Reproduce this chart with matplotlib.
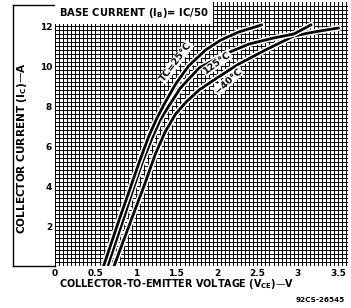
import numpy as np
import matplotlib
matplotlib.use("Agg")
import matplotlib.pyplot as plt
import matplotlib.patheffects as pe
from matplotlib.lines import Line2D

# Data
v_25 = [0.60, 0.70, 0.80, 0.93, 1.05, 1.16, 1.26, 1.35, 1.49, 1.65, 1.86, 2.05, 2.27, 2.55]
ic_25 = [0.0, 1.2, 2.4, 3.9, 5.3, 6.5, 7.4, 8.1, 9.1, 10.0, 10.8, 11.3, 11.7, 12.05]

v_125 = [0.65, 0.75, 0.85, 0.97, 1.08, 1.20, 1.30, 1.39, 1.55, 1.78, 2.10, 2.40, 2.70, 2.95, 3.16]
ic_125 = [0.0, 1.2, 2.4, 3.9, 5.2, 6.4, 7.3, 7.9, 8.9, 9.9, 10.6, 11.1, 11.4, 11.6, 12.05]

v_m40 = [0.73, 0.84, 0.96, 1.10, 1.24, 1.36, 1.49, 1.62, 1.78, 2.00, 2.27, 2.60, 2.95, 3.20, 3.50]
ic_m40 = [0.0, 1.2, 2.5, 4.0, 5.6, 6.7, 7.6, 8.2, 8.8, 9.4, 10.1, 10.8, 11.5, 11.7, 11.9]

x_ticks = [0, 0.5, 1, 1.5, 2, 2.5, 3, 3.5]
x_ticklabels = ["0", "0.5", "1", "1.5", "2", "2.5", "3", "3.5"]
y_ticks = [2, 4, 6, 8, 10, 12]
y_ticklabels = ["2", "4", "6", "8", "10", "12"]

plt.rcParams['font.family'] = ['DejaVu Sans']
plt.rcParams['font.weight'] = 'bold'

fig = plt.figure(figsize=(3.51, 3.08), dpi=100)
ax = fig.add_axes([55/351, 1 - 266/308, 293/351, 264/308])
ax.set_xlim(0, 3.62)
ax.set_ylim(0, 13.2)

# dense graph-paper grid
for xv in np.arange(0, 3.62, 0.05):
    ax.axvline(xv, color='black', lw=0.7, zorder=1)
for yv in np.arange(0, 13.2, 0.2):
    ax.axhline(yv, color='black', lw=0.7, zorder=1)

for spine in ax.spines.values():
    spine.set_visible(False)

halo = [pe.Stroke(linewidth=4.2, foreground='white'), pe.Normal()]
for v, ic in [(v_m40, ic_m40), (v_125, ic_125), (v_25, ic_25)]:
    ax.plot(v, ic, color='black', lw=2.0, zorder=3, path_effects=halo)

bbox = dict(facecolor='white', edgecolor='none', pad=0.5)
ax.text(1.49, 10.2, "TC=25°C", rotation=53, ha='center', va='center',
        fontsize=6.8, fontweight='bold', bbox=bbox, zorder=4)
ax.text(2.0, 10.15, "125°C", rotation=36, ha='center', va='center',
        fontsize=6.8, fontweight='bold', bbox=bbox, zorder=4)
ax.text(2.14, 9.25, "−40°C", rotation=42, ha='center', va='center',
        fontsize=6.8, fontweight='bold', bbox=bbox, zorder=4)

ax.set_xticks(x_ticks)
ax.set_xticklabels(x_ticklabels, fontsize=6.5, fontweight='bold')
ax.set_yticks(y_ticks)
ax.set_yticklabels(y_ticklabels, fontsize=6.5, fontweight='bold')
ax.tick_params(length=0, pad=2)

# title box
fig.text(59/351, 1 - 13/308, r"BASE CURRENT (I$_\mathbf{B}$)= IC/50", fontsize=7.2,
         fontweight='bold', ha='left', va='center',
         bbox=dict(facecolor='white', edgecolor='none', pad=3.0), zorder=5)

fig.text(177/351, 1 - 284/308, r"COLLECTOR-TO-EMITTER VOLTAGE (V$_\mathbf{CE}$)—V",
         fontsize=6.9, fontweight='bold', ha='center', va='center')
fig.text(22/351, 1 - 148/308, r"COLLECTOR CURRENT (I$_\mathbf{C}$)—A", rotation=90,
         fontsize=7.6, fontweight='bold', ha='center', va='center')

fig.text(345/351, 1 - 300/308, "92CS-26545", fontsize=5.2, fontweight='bold',
         ha='right', va='center')

# outer frame lines on the left
fig.add_artist(Line2D([13/351, 13/351], [1 - 5/308, 1 - 266/308], color='black', lw=1.0))
fig.add_artist(Line2D([13/351, 55/351], [1 - 266/308, 1 - 266/308], color='black', lw=1.0))
fig.add_artist(Line2D([13/351, 55/351], [1 - 5/308, 1 - 5/308], color='black', lw=1.0))

fig.savefig("out.png", dpi=100)
